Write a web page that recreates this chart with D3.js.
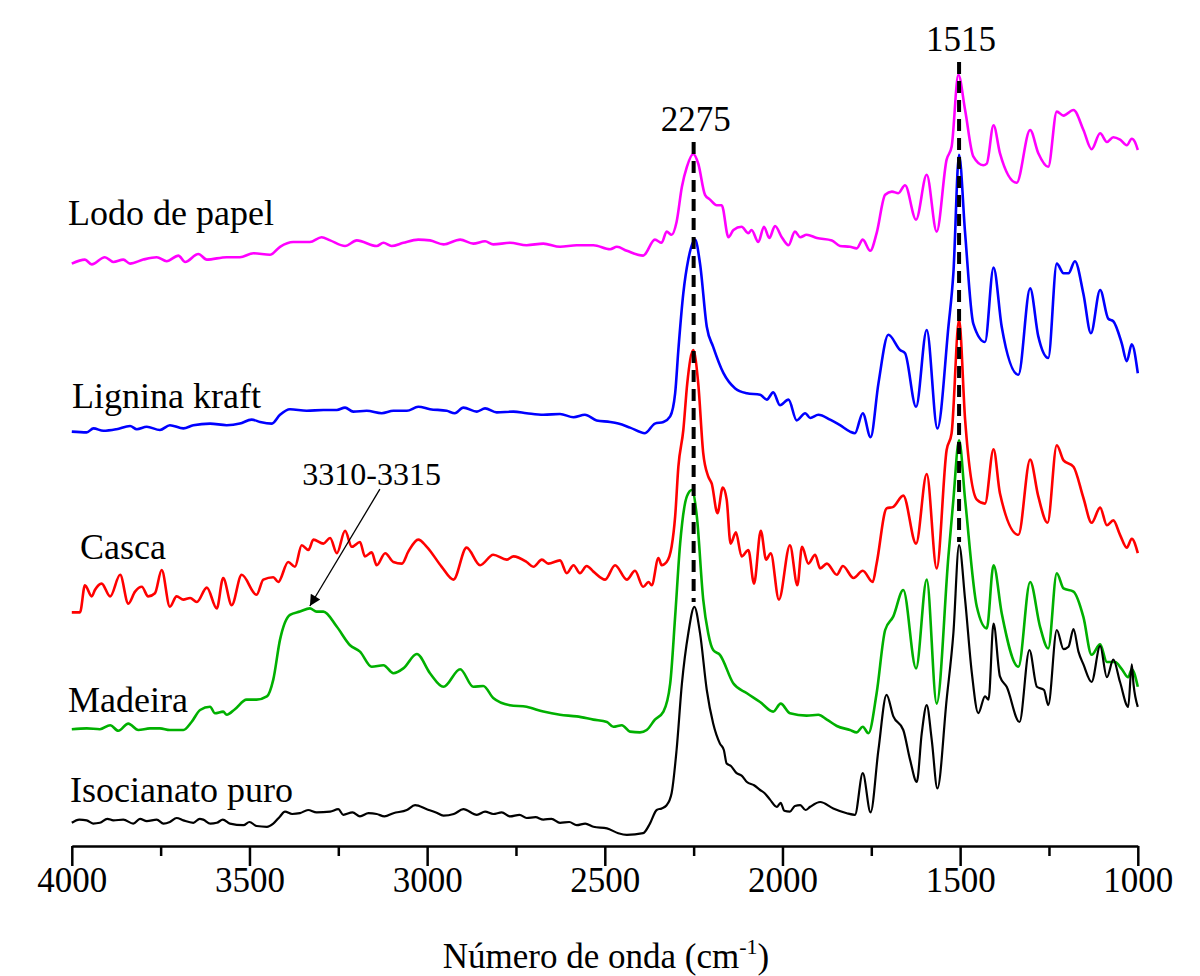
<!DOCTYPE html>
<html><head><meta charset="utf-8">
<script src="https://cdn.jsdelivr.net/npm/d3@7"></script>
<style>
html,body{margin:0;padding:0;background:#fff;}
svg{display:block;}
text{font-family:"Liberation Serif","Times New Roman",serif;fill:#000;}
</style></head>
<body><svg id="c" width="1200" height="976"></svg>
<script>
// ---- data (wavenumber cm-1, offset intensity a.u.) ----
const majorTicks = [4000,3500,3000,2500,2000,1500,1000];
const minorTicks = [3750,3250,2750,2250,1750,1250];
const seriesNames = ["Lodo de papel","Lignina kraft","Casca","Madeira","Isocianato puro"];
const seriesColors = ["#ff00ff","#0000ff","#ff0000","#00b000","#000000"];

const lodoDePapel = [[4000,72.8],[3963,73.3],[3944,72.7],[3907,73.6],[3883,73.0],[3855,73.3],[3836,72.8],[3799,73.3],[3761,73.6],[3733,73.1],[3700,73.8],[3681,73.0],[3644,74.0],[3620,73.3],[3564,73.6],[3527,73.6],[3489,74.1],[3442,73.9],[3414,74.9],[3377,75.5],[3330,75.5],[3297,76.1],[3273,75.7],[3231,75.0],[3198,75.7],[3142,75.0],[3123,75.4],[3100,75.0],[3067,75.4],[3025,75.8],[2992,75.7],[2954,75.2],[2907,75.8],[2870,75.3],[2837,75.6],[2814,75.2],[2767,75.4],[2720,75.1],[2673,75.3],[2626,74.9],[2579,75.1],[2532,75.1],[2485,74.6],[2466,74.9],[2438,74.4],[2392,73.8],[2359,75.8],[2340,75.4],[2326,76.8],[2312,76.4],[2298,78.0],[2283,82.4],[2269,84.9],[2251,86.5],[2237,85.3],[2218,81.4],[2204,80.8],[2185,80.1],[2171,80.1],[2152,76.1],[2138,77.0],[2115,77.4],[2096,76.6],[2087,77.0],[2068,75.5],[2052,77.4],[2037,76.0],[2021,77.5],[2002,76.1],[1983,75.1],[1965,76.8],[1950,76.1],[1932,76.4],[1903,76.0],[1861,75.7],[1838,75.0],[1810,74.9],[1791,74.7],[1774,75.8],[1753,74.4],[1735,76.6],[1711,81.4],[1692,81.8],[1674,81.6],[1655,82.6],[1624,78.3],[1594,83.9],[1566,76.8],[1538,85.8],[1524,87.4],[1505,96.4],[1486,92.0],[1463,86.2],[1435,85.1],[1425,85.3],[1406,90.1],[1388,86.6],[1341,82.9],[1303,89.5],[1280,86.6],[1252,84.9],[1228,91.8],[1209,91.3],[1181,92.0],[1153,89.5],[1130,87.1],[1106,89.1],[1087,88.0],[1069,88.6],[1050,88.3],[1031,87.6],[1017,88.4],[1008,88.0],[1000,87.0]];

const ligninaKraft = [[4000,51.8],[3958,51.7],[3939,52.2],[3911,51.9],[3874,52.1],[3836,52.5],[3817,52.1],[3789,52.4],[3752,52.0],[3724,52.6],[3686,52.2],[3658,52.6],[3611,52.8],[3564,52.6],[3527,52.8],[3494,53.3],[3470,53.0],[3437,52.8],[3414,53.9],[3386,54.6],[3339,54.4],[3292,54.5],[3254,54.5],[3231,54.8],[3208,54.3],[3170,54.4],[3128,54.1],[3095,54.4],[3057,54.4],[3025,54.9],[2992,54.6],[2945,54.4],[2922,54.1],[2898,54.8],[2860,54.3],[2837,54.7],[2804,54.2],[2757,54.3],[2720,54.1],[2673,53.9],[2626,54.0],[2588,53.6],[2556,53.9],[2523,53.2],[2485,53.0],[2462,52.8],[2429,52.3],[2387,51.6],[2359,52.8],[2335,53.0],[2316,53.7],[2302,56.6],[2293,62.0],[2279,69.1],[2265,73.3],[2246,75.8],[2232,72.8],[2213,64.9],[2195,62.4],[2166,59.1],[2133,57.2],[2100,56.6],[2063,56.4],[2044,55.8],[2026,56.7],[2007,55.1],[1983,55.8],[1960,53.2],[1936,54.1],[1922,53.5],[1899,53.9],[1866,53.3],[1838,52.6],[1810,51.8],[1796,51.6],[1774,54.1],[1752,51.1],[1730,57.8],[1702,63.9],[1669,62.0],[1655,61.6],[1624,54.9],[1594,64.5],[1564,52.2],[1533,64.9],[1519,71.6],[1503,86.4],[1486,76.6],[1463,65.3],[1430,63.0],[1406,72.3],[1383,64.9],[1336,58.9],[1303,69.7],[1280,63.7],[1252,61.0],[1228,72.8],[1209,71.6],[1195,71.6],[1177,73.1],[1153,69.0],[1132,64.1],[1106,69.5],[1083,65.9],[1069,65.6],[1045,62.8],[1031,60.6],[1017,62.7],[1000,59.1]];

const casca = [[4000,29.2],[3977,29.2],[3963,32.6],[3944,31.2],[3935,32.0],[3916,32.8],[3892,31.2],[3864,33.9],[3841,30.3],[3822,31.8],[3803,32.4],[3785,31.2],[3766,31.6],[3747,34.5],[3724,29.9],[3705,31.2],[3686,30.8],[3667,31.0],[3648,30.5],[3620,32.3],[3592,29.7],[3574,33.5],[3550,30.1],[3522,33.9],[3480,31.4],[3461,33.3],[3433,33.6],[3419,33.0],[3391,35.5],[3372,34.9],[3353,37.6],[3334,37.0],[3320,38.3],[3292,37.8],[3273,38.5],[3254,36.6],[3231,39.4],[3212,37.4],[3189,38.0],[3175,36.2],[3156,36.7],[3142,35.1],[3118,36.6],[3095,35.5],[3071,35.3],[3053,36.8],[3025,38.3],[3001,37.4],[2959,34.9],[2926,33.3],[2889,37.3],[2851,35.1],[2814,36.4],[2776,35.8],[2757,36.2],[2720,35.5],[2701,34.9],[2677,35.8],[2659,35.3],[2626,35.7],[2607,34.1],[2588,35.1],[2570,34.1],[2551,35.0],[2532,34.3],[2499,33.3],[2471,35.1],[2438,33.3],[2415,34.4],[2392,32.4],[2377,33.0],[2368,32.6],[2349,36.0],[2340,35.1],[2326,35.5],[2312,37.4],[2302,41.2],[2293,47.4],[2279,52.0],[2268,57.8],[2251,62.0],[2237,57.8],[2223,49.1],[2209,46.2],[2199,45.3],[2183,41.6],[2168,44.8],[2157,43.3],[2146,37.8],[2131,39.2],[2115,36.2],[2096,37.0],[2080,32.8],[2061,39.4],[2046,35.8],[2033,36.6],[2010,30.8],[1979,37.6],[1958,32.6],[1945,37.4],[1927,35.3],[1908,36.4],[1894,34.7],[1875,35.3],[1847,33.9],[1830,35.0],[1800,33.5],[1774,34.4],[1746,33.0],[1735,35.3],[1707,42.2],[1688,42.4],[1660,43.8],[1624,37.8],[1594,46.5],[1566,34.7],[1538,49.5],[1524,51.6],[1503,65.8],[1486,53.3],[1453,43.3],[1430,42.8],[1406,49.6],[1388,44.1],[1336,38.9],[1303,48.3],[1280,43.7],[1254,40.4],[1228,50.1],[1209,48.2],[1181,47.4],[1153,43.5],[1130,40.4],[1106,42.3],[1087,40.1],[1069,40.7],[1050,38.9],[1031,37.3],[1017,38.4],[1000,36.6]];

const madeira = [[4000,14.6],[3958,14.7],[3921,14.6],[3892,15.1],[3869,14.4],[3841,15.3],[3813,14.5],[3780,14.7],[3752,14.7],[3724,14.5],[3686,14.5],[3663,15.5],[3639,17.0],[3611,17.4],[3597,16.6],[3574,16.8],[3564,16.4],[3541,17.1],[3508,18.3],[3480,18.3],[3451,18.7],[3433,20.8],[3414,25.8],[3386,28.9],[3358,29.3],[3330,29.7],[3311,29.3],[3292,29.3],[3254,27.4],[3217,25.1],[3189,24.3],[3156,22.4],[3123,22.6],[3095,21.6],[3067,22.2],[3029,24.0],[2992,21.6],[2954,19.9],[2907,22.1],[2870,19.9],[2842,20.0],[2814,18.5],[2767,17.6],[2720,17.4],[2673,16.8],[2626,16.4],[2579,16.2],[2532,15.8],[2494,15.5],[2476,14.9],[2452,15.1],[2429,14.3],[2401,14.2],[2382,14.5],[2359,15.8],[2335,16.8],[2316,20.3],[2302,28.7],[2288,37.8],[2269,43.7],[2255,44.5],[2241,41.2],[2223,30.8],[2209,26.6],[2195,24.5],[2176,23.9],[2138,20.3],[2100,19.1],[2063,18.0],[2026,16.8],[2005,17.8],[1979,16.6],[1932,16.3],[1899,16.4],[1875,15.8],[1847,15.0],[1810,14.5],[1791,14.2],[1774,14.9],[1758,14.1],[1735,19.1],[1711,27.0],[1688,28.7],[1660,32.0],[1624,22.2],[1594,33.3],[1566,17.8],[1533,36.2],[1519,43.3],[1503,50.7],[1486,43.3],[1453,29.9],[1425,27.2],[1406,35.1],[1383,29.1],[1336,22.4],[1303,33.0],[1275,27.4],[1252,24.7],[1228,34.1],[1209,32.2],[1181,31.8],[1153,28.6],[1130,23.9],[1106,25.2],[1087,23.0],[1064,23.0],[1045,22.1],[1027,21.1],[1017,22.1],[1000,19.9]];

const isocianatoPuro = [[4000,2.9],[3979,3.3],[3958,3.2],[3940,2.8],[3921,2.9],[3900,3.4],[3883,3.2],[3855,3.3],[3827,2.8],[3808,3.4],[3789,3.1],[3761,3.3],[3742,2.8],[3724,3.0],[3705,3.5],[3686,3.2],[3658,2.9],[3640,3.4],[3630,3.3],[3610,2.8],[3592,2.9],[3575,3.3],[3555,2.8],[3517,2.6],[3500,3.0],[3480,2.5],[3451,2.4],[3433,2.8],[3414,3.7],[3400,4.3],[3380,4.0],[3358,4.1],[3335,4.5],[3311,4.2],[3273,4.3],[3250,4.6],[3236,3.9],[3210,4.2],[3189,3.7],[3165,4.1],[3142,4.0],[3120,3.7],[3095,4.1],[3057,4.5],[3034,5.1],[3001,4.6],[2975,4.2],[2954,3.8],[2925,4.0],[2898,4.6],[2860,3.9],[2837,4.3],[2814,4.0],[2790,4.2],[2767,3.7],[2740,3.9],[2720,3.5],[2695,3.6],[2673,3.3],[2650,3.4],[2626,2.9],[2600,3.0],[2579,2.6],[2555,2.8],[2532,2.4],[2494,2.2],[2462,1.6],[2438,1.4],[2392,1.6],[2373,2.8],[2354,4.5],[2340,4.7],[2326,5.1],[2312,6.6],[2298,12.0],[2283,20.3],[2265,26.6],[2248,29.9],[2232,26.6],[2213,19.5],[2195,15.3],[2176,12.8],[2165,12.0],[2157,10.3],[2145,10.0],[2129,9.1],[2115,8.8],[2100,8.0],[2080,7.6],[2063,7.0],[2050,6.6],[2035,5.8],[2016,4.9],[2005,5.4],[1995,4.4],[1979,4.3],[1965,5.0],[1950,5.1],[1935,4.5],[1922,4.9],[1894,5.5],[1857,4.7],[1819,4.1],[1796,3.9],[1774,9.1],[1752,4.2],[1730,12.0],[1707,18.9],[1688,16.2],[1660,14.5],[1641,10.8],[1622,8.0],[1608,14.1],[1594,17.6],[1580,13.3],[1564,7.2],[1538,18.3],[1519,26.6],[1503,37.6],[1486,30.8],[1467,21.6],[1449,16.6],[1430,18.7],[1420,18.3],[1406,27.8],[1388,21.2],[1369,19.9],[1333,15.5],[1305,24.5],[1284,19.9],[1264,19.5],[1252,17.6],[1228,27.0],[1209,24.6],[1195,24.9],[1181,27.1],[1167,24.3],[1153,22.7],[1130,20.5],[1106,25.0],[1087,21.1],[1069,23.3],[1050,20.5],[1027,17.4],[1017,22.7],[1012,20.2],[1000,17.4]];

const allSeries = [lodoDePapel, ligninaKraft, casca, madeira, isocianatoPuro];

// peak markers: label text, wavenumber of dashed line, top and bottom intensity
const markerLabels = ["2275","1515"];
const markerWavenumbers = [2250,1503];
const markerTops = [88.0,98.0];
const markerBottoms = [30.5,38.0];

// annotation arrow
const annotText = "3310-3315";
const annotFrom = [3133,44.6];
const annotTo = [3330,30.0];
const annotTextPos = [3156,45.1];

// ---- layout ----
const svg = d3.select("#c");
const x = d3.scaleLinear().domain([4000,1000]).range([71.8,1137.8]);
const y = d3.scaleLinear().domain([0,100]).range([846,46]);

svg.append("rect").attr("width",1200).attr("height",976).attr("fill","#fff");

const line = d3.line().x(d=>x(d[0])).y(d=>y(d[1])).curve(d3.curveMonotoneX);

allSeries.forEach((s,i)=>{
  svg.append("path").datum(s).attr("d",line)
    .attr("fill","none").attr("stroke",seriesColors[i])
    .attr("stroke-width", i===4 ? 2.2 : 2.6)
    .attr("stroke-linejoin","round");
});

// series labels
const labelPos = [[68,225],[72,408],[80,559],[68,712],[70,802]];
seriesNames.forEach((n,i)=>{
  svg.append("text").attr("x",labelPos[i][0]).attr("y",labelPos[i][1])
    .style("font-size","36px").text(n);
});

// dashed markers
markerLabels.forEach((lab,i)=>{
  svg.append("line")
    .attr("x1",x(markerWavenumbers[i])).attr("x2",x(markerWavenumbers[i]))
    .attr("y1",y(markerTops[i])).attr("y2",y(markerBottoms[i]))
    .attr("stroke","#000").attr("stroke-width",4).attr("stroke-dasharray","12,7");
  svg.append("text").attr("x",x(markerWavenumbers[i])+2).attr("y",y(markerTops[i])-11)
    .attr("text-anchor","middle").style("font-size","35px").text(lab);
});

// annotation
svg.append("defs").append("marker").attr("id","ah")
  .attr("viewBox","0 0 10 10").attr("refX",10).attr("refY",5)
  .attr("markerWidth",16).attr("markerHeight",11).attr("markerUnits","userSpaceOnUse")
  .attr("orient","auto")
  .append("path").attr("d","M0,0 L10,5 L0,10 z").attr("fill","#000");
svg.append("line")
  .attr("x1",x(annotFrom[0])).attr("y1",y(annotFrom[1]))
  .attr("x2",x(annotTo[0])).attr("y2",y(annotTo[1]))
  .attr("stroke","#000").attr("stroke-width",1.3).attr("marker-end","url(#ah)");
svg.append("text").attr("x",x(annotTextPos[0])).attr("y",y(annotTextPos[1]))
  .attr("text-anchor","middle").style("font-size","32px").text(annotText);

// axis
const gAxis = svg.append("g").attr("transform","translate(0,846)");
gAxis.call(d3.axisBottom(x).tickValues(majorTicks).tickSize(20).tickSizeOuter(0).tickFormat(d3.format("d")));
gAxis.append("g").call(d3.axisBottom(x).tickValues(minorTicks).tickSize(10).tickSizeOuter(0).tickFormat(""))
  .select(".domain").remove();
gAxis.selectAll("path.domain").attr("stroke","#000").attr("stroke-width",2.5);
gAxis.selectAll(".tick line").attr("stroke","#000").attr("stroke-width",2.5);
gAxis.selectAll(".tick text")
  .style("font-family","'Liberation Serif','Times New Roman',serif")
  .style("font-size","35px").attr("fill","#000").attr("y",46).attr("dy",0);

// axis title
const t = svg.append("text").attr("x",606).attr("y",968).attr("text-anchor","middle").style("font-size","35px");
t.append("tspan").text("Número de onda (cm");
t.append("tspan").style("font-size","22px").attr("dy",-14).text("-1");
t.append("tspan").attr("dy",14).text(")");
</script></body></html>
